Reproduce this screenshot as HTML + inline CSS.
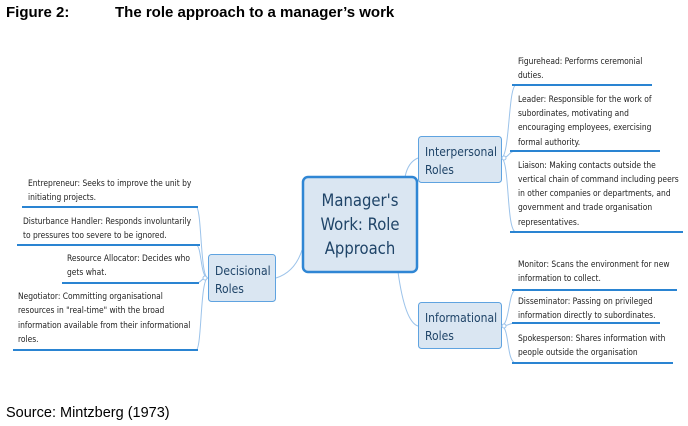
<!DOCTYPE html>
<html><head><meta charset="utf-8"><style>
body{margin:0;background:#fff;width:688px;height:426px;overflow:hidden}
svg{display:block}
.t{font-family:"DejaVu Sans Condensed","Liberation Sans Narrow","Liberation Sans",sans-serif;font-size:8.4px;fill:#222}
.n{font-family:"DejaVu Sans Condensed","Liberation Sans",sans-serif;fill:#1f4468}
</style></head><body>
<svg width="688" height="426" viewBox="0 0 688 426">
<text x="6" y="17" font-family="Liberation Sans,sans-serif" font-weight="bold" font-size="15" fill="#000">Figure 2:</text>
<text x="115" y="17" font-family="Liberation Sans,sans-serif" font-weight="bold" font-size="15" fill="#000">The role approach to a manager’s work</text>
<text x="6" y="417" font-family="Liberation Sans,sans-serif" font-size="14.5" fill="#000">Source: Mintzberg (1973)</text>
<g fill="none" stroke="#9cc3ea" stroke-width="1">
<path d="M405 177 Q408 162 418 158"/>
<path d="M398 272 Q405 322 418 326"/>
<path d="M302 250 Q295 272 276 278"/>
<path d="M501 158 C510 158 508 86 516 85 M501 158 C510 158 508 151 516 151 M501 158 C510 158 506 232 516 232"/>
<path d="M501 326 C510 326 508 290 516 290 M501 326 C510 326 508 323 516 323 M501 326 C510 326 506 363 516 363"/>
<path d="M208 278 C200 278 202 207 196 207 M208 278 C200 278 202 245 196 245 M208 278 C200 278 202 283 196 283 M208 278 C200 278 202 350 196 350"/>
</g>
<g stroke="#2a84d2" stroke-width="2">
<line x1="512" y1="85" x2="652" y2="85"/><line x1="510" y1="151" x2="660" y2="151"/><line x1="510" y1="232" x2="683" y2="232"/>
<line x1="512" y1="290" x2="677" y2="290"/><line x1="512" y1="323" x2="660" y2="323"/><line x1="512" y1="363" x2="673" y2="363"/>
<line x1="22" y1="207" x2="198" y2="207"/><line x1="17" y1="245" x2="200" y2="245"/><line x1="62" y1="283" x2="199" y2="283"/><line x1="13" y1="350" x2="198" y2="350"/>
</g>
<rect x="303" y="177" width="114" height="95" rx="5" fill="#dae6f2" stroke="#2f86d4" stroke-width="2.5"/>
<rect x="418.5" y="136.5" width="83" height="46" rx="3" fill="#dae6f2" stroke="#5fa3e0"/>
<rect x="208.5" y="254.5" width="67" height="47" rx="3" fill="#dae6f2" stroke="#5fa3e0"/>
<rect x="418.5" y="302.5" width="83" height="46" rx="3" fill="#dae6f2" stroke="#5fa3e0"/>
<g fill="#fff" stroke="#9cc3ea"><circle cx="504" cy="158" r="2"/><circle cx="504" cy="326" r="2"/><circle cx="205" cy="278" r="2"/></g>
<g class="n" font-size="16.5" text-anchor="middle"><text x="360" y="206">Manager's</text><text x="360" y="230">Work: Role</text><text x="360" y="254">Approach</text></g>
<g class="n" font-size="12"><text x="425" y="156">Interpersonal</text><text x="425" y="174">Roles</text>
<text x="215" y="275">Decisional</text><text x="215" y="293">Roles</text>
<text x="425" y="322">Informational</text><text x="425" y="340">Roles</text></g>
<g class="t">
<text x="518" y="64">Figurehead: Performs ceremonial</text><text x="518" y="78">duties.</text>
<text x="518" y="102">Leader: Responsible for the work of</text><text x="518" y="116">subordinates, motivating and</text><text x="518" y="130">encouraging employees, exercising</text><text x="518" y="145">formal authority.</text>
<text x="518" y="168">Liaison: Making contacts outside the</text><text x="518" y="182">vertical chain of command including peers</text><text x="518" y="196">in other companies or departments, and</text><text x="518" y="210">government and trade organisation</text><text x="518" y="225">representatives.</text>
<text x="518" y="267">Monitor: Scans the environment for new</text><text x="518" y="281">information to collect.</text>
<text x="518" y="304">Disseminator: Passing on privileged</text><text x="518" y="318">information directly to subordinates.</text>
<text x="518" y="341">Spokesperson: Shares information with</text><text x="518" y="355">people outside the organisation</text>
<text x="28" y="186">Entrepreneur: Seeks to improve the unit by</text><text x="28" y="200">initiating projects.</text>
<text x="23" y="224">Disturbance Handler: Responds involuntarily</text><text x="23" y="238">to pressures too severe to be ignored.</text>
<text x="67" y="261">Resource Allocator: Decides who</text><text x="67" y="275">gets what.</text>
<text x="18" y="299">Negotiator: Committing organisational</text><text x="18" y="313">resources in "real-time" with the broad</text><text x="18" y="328">information available from their informational</text><text x="18" y="342">roles.</text>
</g>
</svg>
</body></html>
